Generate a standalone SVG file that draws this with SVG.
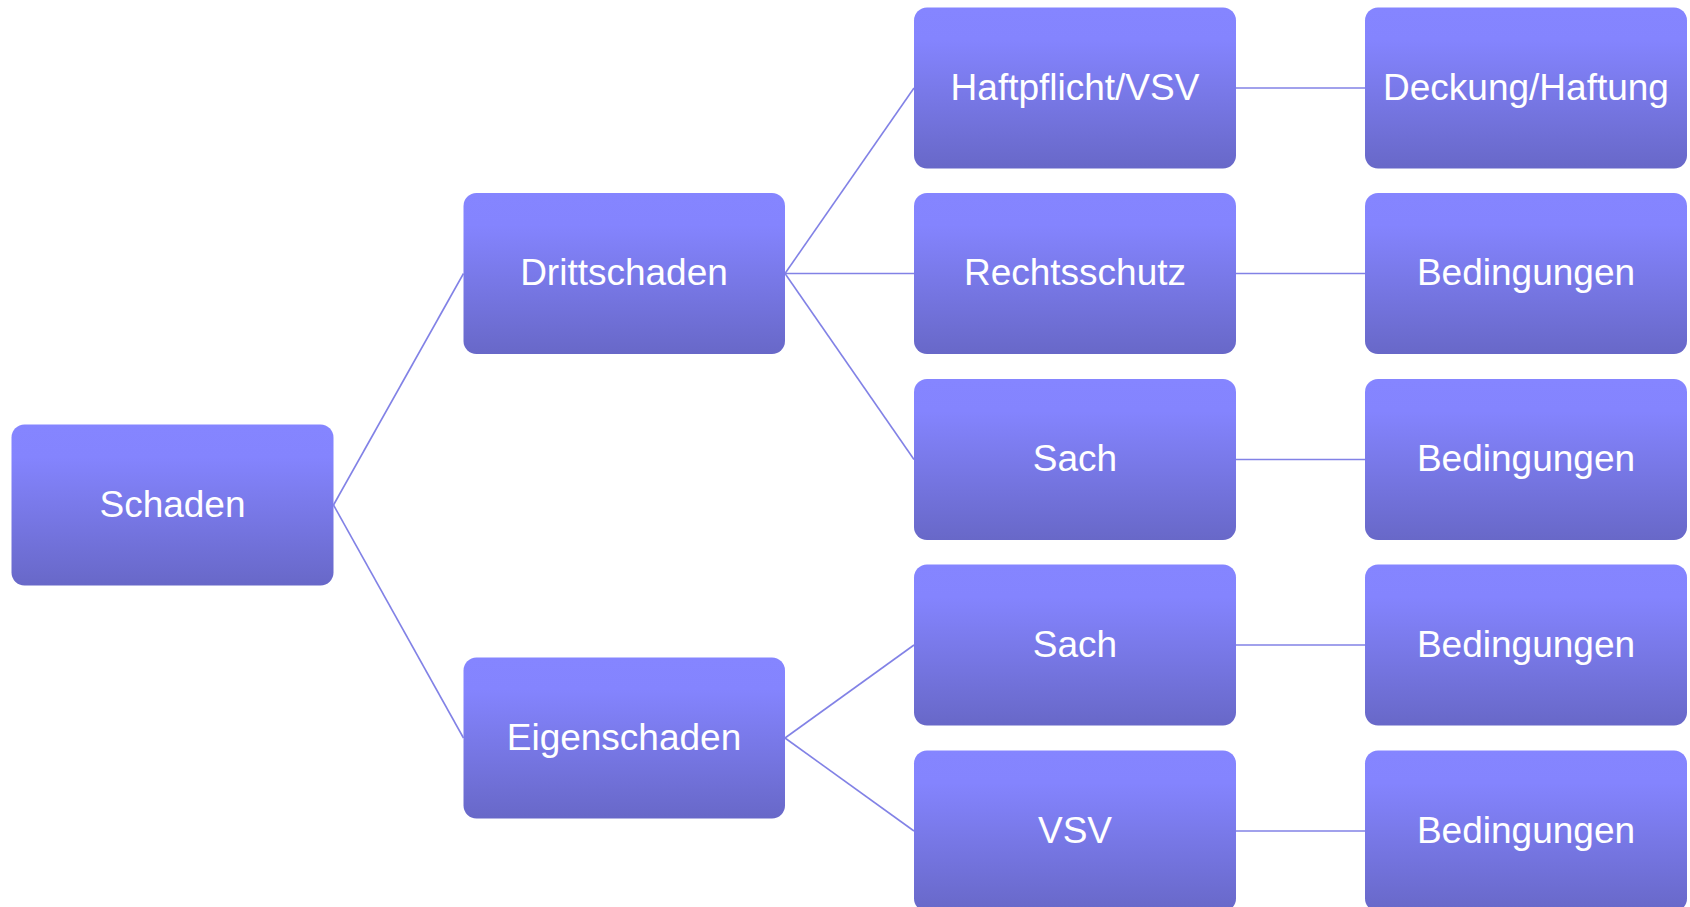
<svg xmlns="http://www.w3.org/2000/svg" width="1690" height="907" viewBox="0 0 1690 907">
<defs>
<linearGradient id="g" x1="0" y1="0" x2="0" y2="1">
<stop offset="0" stop-color="#8585FF"/>
<stop offset="0.2" stop-color="#8484FE"/>
<stop offset="1" stop-color="#6868C8"/>
</linearGradient>
</defs>
<style>
.box{fill:url(#g);}
.lbl{font-family:"Liberation Sans",Arial,sans-serif;font-size:37px;fill:#FFFFFF;text-anchor:middle;}
.c{stroke:#8282E6;stroke-width:1.6;fill:none;}
</style>
<rect width="1690" height="907" fill="#FFFFFF"/>
<g id="connectors">
<line class="c" x1="333.5" y1="505" x2="463.5" y2="273.5"/>
<line class="c" x1="333.5" y1="505" x2="463.5" y2="738"/>
<line class="c" x1="785" y1="273.5" x2="914" y2="88"/>
<line class="c" x1="785" y1="273.5" x2="914" y2="273.5"/>
<line class="c" x1="785" y1="273.5" x2="914" y2="459.5"/>
<line class="c" x1="785" y1="738" x2="914" y2="645"/>
<line class="c" x1="785" y1="738" x2="914" y2="831"/>
<line class="c" x1="1236" y1="88" x2="1365" y2="88"/>
<line class="c" x1="1236" y1="273.5" x2="1365" y2="273.5"/>
<line class="c" x1="1236" y1="459.5" x2="1365" y2="459.5"/>
<line class="c" x1="1236" y1="645" x2="1365" y2="645"/>
<line class="c" x1="1236" y1="831" x2="1365" y2="831"/>
</g>
<g id="n-schaden"><rect class="box" x="11.5" y="424.5" width="322" height="161" rx="13"/><text class="lbl" x="172.5" y="517">Schaden</text></g>
<g id="n-dritt"><rect class="box" x="463.5" y="193" width="321.5" height="161" rx="13"/><text class="lbl" x="624" y="285">Drittschaden</text></g>
<g id="n-eigen"><rect class="box" x="463.5" y="657.5" width="321.5" height="161" rx="13"/><text class="lbl" x="624" y="749.5">Eigenschaden</text></g>
<g id="n-haft"><rect class="box" x="914" y="7.5" width="322" height="161" rx="13"/><text class="lbl" x="1075" y="99.5">Haftpflicht/VSV</text></g>
<g id="n-rechts"><rect class="box" x="914" y="193" width="322" height="161" rx="13"/><text class="lbl" x="1075" y="285">Rechtsschutz</text></g>
<g id="n-sach1"><rect class="box" x="914" y="379" width="322" height="161" rx="13"/><text class="lbl" x="1075" y="471">Sach</text></g>
<g id="n-sach2"><rect class="box" x="914" y="564.5" width="322" height="161" rx="13"/><text class="lbl" x="1075" y="656.5">Sach</text></g>
<g id="n-vsv"><rect class="box" x="914" y="750.5" width="322" height="161" rx="13"/><text class="lbl" x="1075" y="842.5">VSV</text></g>
<g id="n-deckung"><rect class="box" x="1365" y="7.5" width="322" height="161" rx="13"/><text class="lbl" x="1526" y="99.5">Deckung/Haftung</text></g>
<g id="n-bed1"><rect class="box" x="1365" y="193" width="322" height="161" rx="13"/><text class="lbl" x="1526" y="285">Bedingungen</text></g>
<g id="n-bed2"><rect class="box" x="1365" y="379" width="322" height="161" rx="13"/><text class="lbl" x="1526" y="471">Bedingungen</text></g>
<g id="n-bed3"><rect class="box" x="1365" y="564.5" width="322" height="161" rx="13"/><text class="lbl" x="1526" y="656.5">Bedingungen</text></g>
<g id="n-bed4"><rect class="box" x="1365" y="750.5" width="322" height="161" rx="13"/><text class="lbl" x="1526" y="842.5">Bedingungen</text></g>
</svg>
